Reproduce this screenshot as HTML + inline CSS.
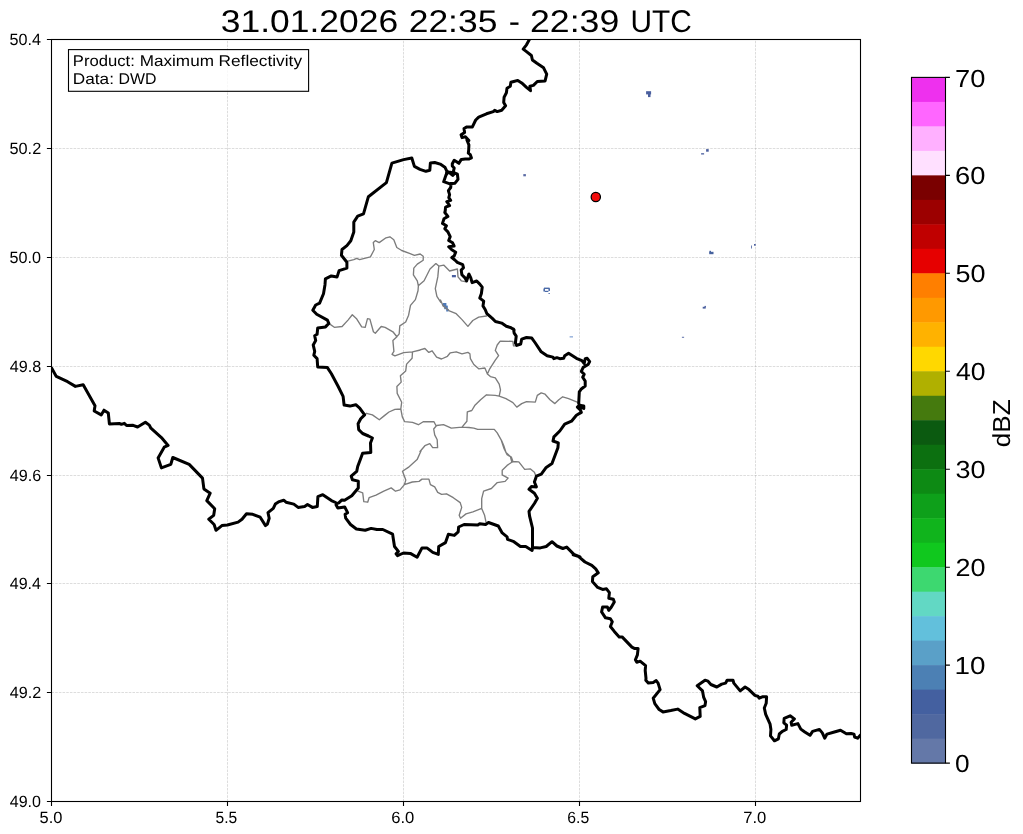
<!DOCTYPE html>
<html><head><meta charset="utf-8"><title>radar</title>
<style>
html,body{margin:0;padding:0;background:#fff;}
body{width:1023px;height:834px;position:relative;overflow:hidden;font-family:"Liberation Sans",sans-serif;color:#000;}
</style></head><body>
<svg width="1023" height="834" viewBox="0 0 1023 834" style="position:absolute;left:0;top:0;will-change:transform;text-rendering:geometricPrecision">
<defs><clipPath id="ax"><rect x="51.5" y="39.5" width="809.0" height="762.0"/></clipPath></defs>
<path d="M227.5 801.5 V39.5 M403.5 801.5 V39.5 M579.5 801.5 V39.5 M755.5 801.5 V39.5 M51.5 692.5 H860.5 M51.5 583.5 H860.5 M51.5 475.5 H860.5 M51.5 366.5 H860.5 M51.5 257.5 H860.5 M51.5 148.5 H860.5" fill="none" stroke="#808080" stroke-opacity="0.36" stroke-width="0.75" stroke-dasharray="2.57 1.11"/>
<g clip-path="url(#ax)" fill="none" stroke-linejoin="round" stroke-linecap="round">
<rect x="646.1" y="91.2" width="5" height="3.2" fill="#4a5f9e" stroke="none"/>
<rect x="648.0" y="92.1" width="2.5" height="5" fill="#4a5f9e" stroke="none"/>
<rect x="706.1" y="149.1" width="2.6" height="2.6" fill="#4a5f9e" stroke="none"/>
<rect x="701.1" y="153.2" width="3" height="1.3" fill="#4a5f9e" stroke="none"/>
<rect x="523.3" y="174.1" width="2.6" height="2.2" fill="#5a6aa4" stroke="none"/>
<rect x="709.2" y="251.8" width="4.3" height="2.4" fill="#46629e" stroke="none"/>
<rect x="709.4" y="250.8" width="1.6" height="1.6" fill="#46629e" stroke="none"/>
<rect x="754.0" y="244.0" width="1.7" height="1.7" fill="#4a5f9e" stroke="none"/>
<rect x="751.0" y="245.5" width="0.8" height="3" fill="#4a5f9e" stroke="none"/>
<rect x="702.7" y="306.8" width="3" height="1.8" fill="#4a5f9e" stroke="none"/>
<rect x="704.5" y="305.9" width="1.4" height="1.4" fill="#4a5f9e" stroke="none"/>
<rect x="681.9" y="336.8" width="2.2" height="0.9" fill="#4a5f9e" stroke="none"/>
<rect x="451.9" y="275.0" width="4" height="2.3" fill="#4a5f9e" stroke="none"/>
<rect x="442.8" y="303.0" width="3.6" height="3.2" fill="#4f7ab8" stroke="none"/>
<rect x="444.2" y="305.6" width="3.6" height="3.6" fill="#4f7ab8" stroke="none"/>
<rect x="446.2" y="308.9" width="2.4" height="2.6" fill="#4f7ab8" stroke="none"/>
<rect x="544.0" y="287.6" width="5.5" height="1.4" fill="#4a6aa8" stroke="none"/>
<rect x="543.4" y="288.5" width="1.6" height="3" fill="#4a6aa8" stroke="none"/>
<rect x="548.4" y="288.3" width="1.6" height="2.6" fill="#4a6aa8" stroke="none"/>
<rect x="544.8" y="290.8" width="3.6" height="1.2" fill="#4a6aa8" stroke="none"/>
<rect x="548.4" y="293.1" width="1.6" height="0.8" fill="#4a6aa8" stroke="none"/>
<rect x="569.6" y="336.2" width="3.4" height="1.3" fill="#8aa8d8" stroke="none"/>
<path d="M358.0 491.2 L362.7 492.8 L363.8 501.6 L367.7 502.2 L369.1 497.7 L376.0 495.1 L383.8 491.2 L391.2 487.9 L395.5 491.2 L400.0 489.9 L404.4 484.6 L405.8 480.1 L402.5 471.3 L408.3 467.4 L417.1 459.6 L421.1 450.8 M404.4 484.6 L412.3 482.0 L419.1 481.4 L422.0 479.1 L428.9 479.1 L430.4 484.6 L434.7 486.9 L437.7 492.4 L441.6 494.3 L446.5 493.8 L453.3 497.7 L460.2 502.6 L461.7 507.4 L459.2 515.3 L460.5 518.2 L466.0 513.9 L472.9 511.9 L481.7 508.4 M481.7 508.4 L484.6 515.3 L486.0 522.1 M481.7 508.4 L481.7 498.7 L483.6 491.2 L491.4 488.5 L497.3 482.6 L505.1 481.4 L508.1 478.1 L502.2 474.8 L502.2 470.3 L507.1 465.4 L512.9 461.5 M501.2 440.0 L504.1 448.8 L507.1 454.7 L511.4 457.2 L512.9 461.5 M512.9 461.5 L518.8 461.9 L524.7 469.3 L530.5 468.9 L534.4 472.3 L536.0 476.2 M420.0 349.9 L424.9 348.5 L428.8 352.4 L432.1 350.8 L436.6 357.1 L441.5 359.0 L447.4 356.3 L450.3 352.8 L456.2 351.8 L462.0 353.8 L467.9 352.4 L469.9 353.8 L470.4 358.7 L473.8 364.5 L478.7 368.8 L484.9 368.0 L487.4 373.9 M487.4 373.9 L489.4 369.4 L495.3 360.2 L498.6 355.7 L495.3 350.4 L497.2 345.0 L500.2 341.1 L512.9 341.4 L513.5 345.9 L515.8 345.9 M487.4 373.9 L490.4 376.6 L495.3 377.8 L499.2 384.1 L500.5 389.9 L499.2 396.2 M499.2 396.2 L495.3 395.4 L486.5 394.8 L480.6 399.7 L474.7 405.6 L471.8 410.5 L467.3 411.8 L466.9 421.2 L462.0 427.1 M499.2 396.2 L506.0 398.7 L512.9 402.6 L516.8 407.1 L521.7 403.6 L526.5 401.7 L535.3 402.1 L537.3 395.4 L541.2 392.9 L545.1 394.2 L550.0 399.7 L554.9 403.6 L558.8 399.7 L562.7 396.8 L568.6 398.7 L578.4 402.6 M462.0 427.1 L468.9 427.5 L473.8 428.1 L477.7 429.4 L494.3 429.4 L497.2 432.9 L501.7 440.8 L504.1 446.6 L506.0 452.5 L510.3 456.4 L511.9 462.3 M462.0 427.1 L451.3 428.1 L443.5 424.7 L436.6 425.5 L433.7 429.0 L434.7 434.9 L437.2 439.8 L437.6 447.6 L432.7 447.6 L429.8 443.7 L424.9 445.7 L420.0 451.5 M440.5 300.0 L443.1 305.9 L449.3 310.8 L456.2 313.7 L462.0 319.6 L467.9 326.4 L472.8 320.5 L478.7 317.2 L486.5 316.0 M347.9 261.2 L353.8 259.6 L356.7 258.3 L359.6 259.6 L370.4 256.9 L374.3 249.5 L373.3 242.6 L375.3 240.7 L379.2 242.6 L386.0 237.8 L389.9 236.8 L393.8 239.7 L396.8 247.5 L401.7 250.5 L409.5 253.4 L414.4 255.3 L420.2 254.0 L423.2 256.3 L423.2 260.2 L417.3 264.1 L413.8 268.1 L413.4 274.9 L417.3 280.8 L418.3 285.7 M418.3 285.7 L424.1 280.8 L430.0 269.0 L435.9 263.6 L438.8 266.1 M438.8 266.1 L437.8 276.9 L435.3 288.6 L436.9 296.4 L440.8 302.3 M438.8 266.1 L443.7 265.1 L449.6 271.0 L457.4 269.0 L458.0 276.9 L461.3 280.8 L465.2 281.7 M328.8 323.4 L334.3 327.3 L342.1 326.5 L348.0 320.1 L352.3 314.8 L356.8 319.1 L361.7 326.9 L365.2 327.3 L367.5 318.7 L369.9 319.1 L373.4 331.8 L375.3 333.2 L381.2 326.5 L385.1 327.3 L392.9 331.8 L396.9 336.7 M396.9 336.7 L399.2 333.8 L399.8 325.9 L405.7 322.0 L408.6 315.2 L410.5 305.4 L415.4 299.6 L418.0 290.8 L418.4 285.7 M396.9 336.7 L392.9 340.6 L393.9 351.4 L392.0 354.3 L394.9 355.9 L403.7 352.7 L412.5 351.9 M412.5 351.9 L420.3 350.0 M412.5 351.9 L412.1 358.2 L406.6 364.1 L405.7 370.9 L400.4 375.8 L401.2 382.1 L396.9 386.5 L397.2 393.4 L401.7 402.2 L400.8 409.0 M400.8 409.0 L394.9 409.4 L389.0 412.0 L384.1 415.9 L379.3 419.8 L372.4 414.9 L366.5 413.3 L364.6 414.9 M400.8 409.0 L402.3 416.9 L404.7 421.7 L412.5 422.3 L418.4 424.7 L423.2 421.7 L434.0 421.7 L436.0 425.7" stroke="#7c7c7c" stroke-width="1.35"/>
<path d="M51.6 368.0 L56.3 376.4 L67.6 381.7 L75.4 386.4 L83.2 384.8 L95.0 405.7 L94.2 411.0 L101.2 414.9 L104.0 410.2 L108.3 413.0 L109.4 423.9 L119.4 423.5 L121.4 424.3 L124.3 423.3 L126.6 425.5 L133.1 425.3 L137.6 427.0 L145.4 422.3 L149.3 425.1 L150.9 428.2 L161.4 437.6 L168.1 445.4 L164.2 447.2 L158.1 457.9 L161.4 467.9 L170.8 464.4 L172.8 457.5 L189.2 464.4 L202.5 478.1 L203.9 488.9 L210.2 493.2 L206.8 500.6 L214.7 508.8 L213.7 515.3 L208.8 519.2 L214.1 524.5 L216.0 530.3 L221.9 525.6 L227.4 525.0 L238.1 522.1 L242.0 519.2 L246.5 513.7 L252.8 514.3 L260.2 517.2 L265.5 525.6 L267.4 524.1 L269.2 518.2 L268.0 512.7 L273.3 508.4 L275.3 504.1 L279.2 501.6 L283.7 500.2 L286.0 502.2 L293.8 504.1 L298.1 507.4 L304.6 506.5 L307.5 504.5 L312.4 507.4 L317.3 506.5 L317.9 496.7 L322.8 494.7 L331.4 500.6 L335.6 502.5 L336.8 503.6 M336.8 503.6 L336.0 504.8 L337.8 508.0 L344.7 506.9 L347.6 512.7 L345.1 514.3 L345.7 518.2 L350.5 524.5 L356.4 529.0 L365.2 530.3 L371.1 528.4 L376.9 529.5 L382.8 529.5 L392.6 534.2 L394.5 546.5 L398.4 551.4 L396.1 553.8 L397.5 555.7 L403.5 553.0 L410.3 553.4 L417.1 557.3 L422.0 547.9 L426.9 547.9 L432.8 552.4 L438.3 554.4 L438.7 546.5 L445.5 542.6 L448.4 534.2 L454.3 535.4 L458.2 531.9 L458.6 527.0 L464.1 524.5 L477.8 525.0 L479.7 523.7 L485.6 524.5 L488.5 522.5 L498.3 526.0 L502.2 532.9 L507.1 536.8 L507.5 539.3 L513.9 541.7 L520.4 546.5 L525.7 546.5 L532.1 550.5 L532.5 547.5 L532.5 528.0 L529.6 516.2 L529.0 511.4 L534.4 503.5 L537.4 498.3 L534.4 493.2 L529.0 489.3 L531.5 486.5 L536.4 486.9 L534.4 482.0 L536.4 476.2 L541.3 474.2 L546.2 467.4 L552.0 463.5 L557.9 447.8 L558.3 442.9 L553.0 441.0 L553.9 436.9 L559.8 431.0 L564.7 424.1 L571.5 421.2 L576.4 415.3 L581.3 412.4 L580.3 409.9 L577.4 407.1 L579.3 405.2 L583.8 406.0 L583.8 408.5 L580.7 407.1 L578.7 403.6 L579.3 391.9 L581.3 389.0 L585.2 386.0 L585.2 381.1 L582.7 377.2 L584.2 374.3 L581.3 371.4 L583.2 367.4 L588.1 364.5 L589.7 361.6 L587.2 358.3 L585.2 358.7 L584.2 363.5 L581.9 360.6 L576.4 358.3 L568.6 353.2 L564.7 355.7 L563.7 358.3 L559.8 358.7 L556.9 357.7 L553.9 358.7 L552.9 357.1 L547.1 355.7 L541.2 351.8 L535.3 343.0 L531.8 338.1 L526.5 337.5 L521.7 339.1 L520.7 344.0 L516.8 345.4 L515.4 343.0 L516.2 336.2 L514.2 333.2 L513.5 328.9 L514.1 329.9 L511.0 327.7 L506.3 326.2 L501.7 323.1 L495.4 321.5 L492.3 318.4 L486.9 313.7 L485.3 309.8 L483.0 305.9 L483.7 301.2 L479.8 298.1 L481.4 293.5 L482.2 287.2 L479.8 284.1 L476.7 281.0 L472.1 282.6 L470.8 277.9 L468.9 274.0 L466.6 281.0 L465.0 277.9 L461.9 274.8 L461.2 270.1 L463.5 267.8 L462.7 264.6 L457.3 262.3 L454.9 260.0 L451.8 257.6 L454.1 256.1 L455.7 252.2 L451.8 249.8 L448.7 246.7 L454.1 246.0 L452.6 242.8 L448.7 240.5 L450.2 236.6 L447.9 231.9 L444.8 228.8 L446.4 225.7 L442.5 223.4 L444.0 218.7 L447.9 216.4 L444.8 212.5 L445.2 211.0 L445.6 207.1 L449.6 205.5 L446.8 201.6 L450.7 200.4 L448.8 197.7 L449.6 194.6 L448.4 190.7 L450.7 187.5 L451.1 183.6 M532.5 547.5 L540.3 547.9 L546.2 546.5 L552.0 541.7 L556.9 546.0 L562.8 548.5 L566.7 547.1 L573.9 554.4 L580.0 556.9 L573.2 554.8 L578.1 556.2 L585.0 562.0 L591.8 565.4 L595.7 568.9 L598.3 572.8 L592.8 576.7 L592.4 581.6 L597.7 587.4 L602.6 589.4 L606.5 588.8 L609.4 592.7 L608.8 598.2 L613.3 599.2 L614.3 602.1 L611.4 607.0 L608.8 610.3 L607.4 607.0 L602.6 607.0 L601.6 611.9 L605.5 617.8 L610.4 618.7 L612.3 621.7 L610.4 626.5 L614.3 631.4 L619.2 636.9 L622.1 636.9 L631.9 647.1 L634.8 648.6 L638.1 648.6 L637.4 654.9 L635.4 659.8 L636.8 662.3 L640.1 661.2 L645.6 665.7 L645.2 670.5 L646.0 678.4 L645.8 680.2 L648.3 683.1 L653.2 682.5 L656.2 680.6 L658.1 683.1 L660.1 689.6 L653.2 698.2 L654.8 703.7 L659.1 709.5 L663.0 711.9 L670.8 710.5 L677.7 709.1 L684.5 713.4 L695.3 718.9 L700.2 716.4 L699.8 707.6 L705.0 705.6 L705.6 701.7 L703.7 697.4 L702.5 690.9 L697.2 685.7 L705.0 680.2 L708.0 681.2 L710.9 684.5 L716.8 687.0 L721.7 684.1 L725.6 683.1 L727.1 680.2 L733.0 680.2 L733.8 683.1 L740.2 690.9 L745.1 687.0 L749.0 689.6 L754.9 695.4 L757.8 696.2 L759.2 698.2 L762.3 696.8 L766.6 696.8 L766.2 703.3 L764.3 708.0 L765.7 714.4 L770.1 724.2 L770.9 729.5 L770.5 735.9 L774.4 740.8 L778.4 738.8 L779.3 734.0 L782.3 731.4 L786.2 729.5 L786.6 725.2 L783.8 722.8 L784.2 718.3 L790.1 715.8 L794.4 718.9 L791.1 722.2 L791.7 725.2 L797.9 723.6 L800.8 729.1 L804.8 732.0 L810.0 735.3 L812.6 731.4 L819.4 729.4 L822.3 732.9 L824.7 738.2 L827.0 734.1 L833.5 732.3 L840.5 730.3 L846.4 733.8 L851.1 733.5 L854.0 734.1 L854.6 737.0 L857.6 738.2 L860.3 735.2 M448.4 171.9 L455.0 173.1 L457.4 174.2 L458.0 179.3 L455.0 183.2 L449.9 183.8 L443.7 181.7 L446.0 175.0 L448.4 171.9 L452.7 175.4 L455.0 173.1 M453.5 171.1 L454.2 168.0 L452.3 166.0 L452.3 163.7 L454.2 160.2 L456.6 161.7 L458.9 163.3 L461.3 159.4 L465.2 159.0 L469.1 159.0 L471.4 157.8 L470.3 154.7 L468.3 153.1 L468.7 150.0 L468.9 144.9 L466.9 140.0 L468.9 140.6 L465.4 136.7 L462.0 137.6 L461.1 134.7 L464.6 132.4 L464.0 128.5 L466.9 126.9 L472.4 126.9 L475.7 120.0 L478.7 117.1 L486.5 113.8 L493.3 111.6 L494.7 110.3 L497.2 111.6 L501.7 110.3 L505.6 105.8 L503.7 102.4 L504.1 97.2 L506.4 92.7 L507.0 88.2 L510.3 86.2 L510.9 82.3 L513.8 81.5 L517.8 80.4 L521.7 82.9 L526.5 87.4 L530.5 90.7 L529.9 86.2 L533.4 85.4 L537.3 81.5 L545.1 80.9 L546.7 74.1 L543.6 67.8 L536.9 63.3 L532.4 60.0 L531.4 55.5 L526.5 51.6 L523.2 49.1 L526.5 44.8 L529.5 39.3 M446.4 174.2 L446.8 171.1 L444.9 167.2 L440.2 164.1 L434.7 162.5 L430.4 162.9 L429.8 170.3 L425.9 171.3 L420.0 169.3 L414.4 166.4 L411.8 158.0 L403.6 159.6 L391.9 163.1 L386.4 182.6 L368.4 196.7 L363.5 213.9 L357.7 216.2 L353.8 222.1 L353.8 231.9 L350.8 240.7 L346.9 245.6 L342.0 249.5 L341.4 255.3 L346.9 262.2 L346.9 268.1 L339.1 270.6 L337.1 276.9 L331.3 275.9 L325.4 278.8 L325.0 284.7 L323.5 293.7 L319.6 303.1 L315.7 305.0 L312.8 310.3 L316.7 314.2 L327.4 320.1 L328.8 323.4 L325.5 326.9 L317.7 327.9 L317.1 334.3 L314.7 335.7 L315.7 340.6 L313.2 344.9 L314.7 351.4 L313.8 355.3 L317.1 358.6 L317.7 367.0 L327.4 367.6 L331.4 373.8 L338.2 386.5 L343.1 396.3 L344.1 405.1 L349.9 406.1 L355.8 404.7 L359.7 408.1 L364.6 414.9 L360.7 418.8 L358.1 423.7 L358.7 429.6 L362.6 433.5 L368.5 436.0 L372.4 438.0 L370.5 443.0 L370.8 452.4 L362.6 453.2 L360.6 458.7 L357.7 466.5 L356.7 471.4 L351.2 476.2 L352.4 479.8 L358.3 481.1 L358.3 488.0 L351.8 495.8 L344.6 500.3 L341.9 499.9 L338.8 502.8 L336.8 503.6" stroke="#000" stroke-width="3.0"/>
<circle cx="595.8" cy="196.9" r="4.65" fill="#f20d0d" stroke="#000" stroke-width="1.25"/>
</g>
<rect x="51.5" y="39.5" width="809.0" height="762.0" fill="none" stroke="#000" stroke-width="1.1"/>
<path d="M51.5 801.5 v4.6 M227.5 801.5 v4.6 M403.5 801.5 v4.6 M579.5 801.5 v4.6 M755.5 801.5 v4.6 M51.5 801.5 h-4.6 M51.5 692.5 h-4.6 M51.5 583.5 h-4.6 M51.5 475.5 h-4.6 M51.5 366.5 h-4.6 M51.5 257.5 h-4.6 M51.5 148.5 h-4.6 M51.5 39.5 h-4.6" fill="none" stroke="#000" stroke-width="1.1"/>
<rect x="911.5" y="77.40" width="34.0" height="24.99" fill="#ee30ee"/>
<rect x="911.5" y="101.89" width="34.0" height="24.99" fill="#ff66ff"/>
<rect x="911.5" y="126.38" width="34.0" height="24.99" fill="#ffb0ff"/>
<rect x="911.5" y="150.87" width="34.0" height="24.99" fill="#ffe0ff"/>
<rect x="911.5" y="175.36" width="34.0" height="24.99" fill="#7a0000"/>
<rect x="911.5" y="199.85" width="34.0" height="24.99" fill="#9c0000"/>
<rect x="911.5" y="224.34" width="34.0" height="24.99" fill="#c00000"/>
<rect x="911.5" y="248.83" width="34.0" height="24.99" fill="#e60000"/>
<rect x="911.5" y="273.31" width="34.0" height="24.99" fill="#ff7f00"/>
<rect x="911.5" y="297.80" width="34.0" height="24.99" fill="#ff9900"/>
<rect x="911.5" y="322.29" width="34.0" height="24.99" fill="#ffb200"/>
<rect x="911.5" y="346.78" width="34.0" height="24.99" fill="#ffd800"/>
<rect x="911.5" y="371.27" width="34.0" height="24.99" fill="#b0b000"/>
<rect x="911.5" y="395.76" width="34.0" height="24.99" fill="#457a0e"/>
<rect x="911.5" y="420.25" width="34.0" height="24.99" fill="#0b5a10"/>
<rect x="911.5" y="444.74" width="34.0" height="24.99" fill="#0c7010"/>
<rect x="911.5" y="469.23" width="34.0" height="24.99" fill="#0d8a14"/>
<rect x="911.5" y="493.72" width="34.0" height="24.99" fill="#0ea01a"/>
<rect x="911.5" y="518.21" width="34.0" height="24.99" fill="#10b41c"/>
<rect x="911.5" y="542.70" width="34.0" height="24.99" fill="#10c81e"/>
<rect x="911.5" y="567.19" width="34.0" height="24.99" fill="#3dd870"/>
<rect x="911.5" y="591.68" width="34.0" height="24.99" fill="#62d8c4"/>
<rect x="911.5" y="616.16" width="34.0" height="24.99" fill="#62c0dc"/>
<rect x="911.5" y="640.65" width="34.0" height="24.99" fill="#5aa0c8"/>
<rect x="911.5" y="665.14" width="34.0" height="24.99" fill="#4c80b4"/>
<rect x="911.5" y="689.63" width="34.0" height="24.99" fill="#4460a0"/>
<rect x="911.5" y="714.12" width="34.0" height="24.99" fill="#5068a0"/>
<rect x="911.5" y="738.61" width="34.0" height="24.99" fill="#6478a8"/>
<rect x="911.5" y="77.4" width="34.0" height="685.7" fill="none" stroke="#000" stroke-width="1.1"/>
<path d="M945.5 763.1 h4.4 M945.5 665.1 h4.4 M945.5 567.2 h4.4 M945.5 469.2 h4.4 M945.5 371.3 h4.4 M945.5 273.3 h4.4 M945.5 175.4 h4.4 M945.5 77.4 h4.4" fill="none" stroke="#000" stroke-width="1.1"/>
<g font-family="Liberation Sans, sans-serif" fill="#000">
<rect x="68.5" y="49.6" width="240.1" height="41.7" fill="#fff" fill-opacity="0.8" stroke="#000" stroke-width="1.1"/>
<text transform="translate(9.75 807.0) scale(0.9839 1)" font-size="16.3">49.0</text>
<text transform="translate(9.75 698.0) scale(0.9919 1)" font-size="16.3">49.2</text>
<text transform="translate(9.75 589.0) scale(0.9839 1)" font-size="16.3">49.4</text>
<text transform="translate(9.75 481.0) scale(0.9919 1)" font-size="16.3">49.6</text>
<text transform="translate(9.75 372.0) scale(0.9919 1)" font-size="16.3">49.8</text>
<text transform="translate(9.50 263.0) scale(0.9919 1)" font-size="16.3">50.0</text>
<text transform="translate(9.50 154.0) scale(1.0000 1)" font-size="16.3">50.2</text>
<text transform="translate(9.50 45.0) scale(0.9919 1)" font-size="16.3">50.4</text>
<text transform="translate(39.50 823.0) scale(1.0093 1)" font-size="16.3">5.0</text>
<text transform="translate(215.52 823.0) scale(0.9581 1)" font-size="16.3">5.5</text>
<text transform="translate(391.23 823.0) scale(1.0212 1)" font-size="16.3">6.0</text>
<text transform="translate(567.27 823.0) scale(0.9694 1)" font-size="16.3">6.5</text>
<text transform="translate(743.23 823.0) scale(1.0212 1)" font-size="16.3">7.0</text>
<text transform="translate(220.79 32.1) scale(1.1288 1)" font-size="31.4">31.01.2026</text>
<text transform="translate(408.71 32.1) scale(1.1287 1)" font-size="31.4">22:35</text>
<text transform="translate(508.76 32.1) scale(1.0750 1)" font-size="31.4">-</text>
<text transform="translate(530.00 32.1) scale(1.1366 1)" font-size="31.4">22:39</text>
<text transform="translate(630.46 32.1) scale(0.9492 1)" font-size="31.4">UTC</text>
<text transform="translate(955.00 772.2) scale(1.0667 1)" font-size="24.6">0</text>
<text transform="translate(954.52 674.24) scale(1.1313 1)" font-size="24.6">10</text>
<text transform="translate(955.40 576.29) scale(1.0980 1)" font-size="24.6">20</text>
<text transform="translate(955.40 478.33) scale(1.0980 1)" font-size="24.6">30</text>
<text transform="translate(955.96 380.37) scale(1.0769 1)" font-size="24.6">40</text>
<text transform="translate(955.40 282.41) scale(1.0980 1)" font-size="24.6">50</text>
<text transform="translate(955.11 184.46) scale(1.1089 1)" font-size="24.6">60</text>
<text transform="translate(955.11 86.5) scale(1.1089 1)" font-size="24.6">70</text>
<text transform="translate(72.86 66.4) scale(1.0733 1)" font-size="15.5">Product:</text>
<text transform="translate(139.72 66.4) scale(1.1046 1)" font-size="15.5">Maximum</text>
<text transform="translate(218.51 66.4) scale(1.1146 1)" font-size="15.5">Reflectivity</text>
<text transform="translate(72.81 83.6) scale(1.1101 1)" font-size="15.5">Data:</text>
<text transform="translate(118.42 83.6) scale(1.0257 1)" font-size="15.5">DWD</text>
<text transform="translate(1009.7 447.26) rotate(-90) scale(1.0644 1)" font-size="24.6">dBZ</text>
</g>
</svg>

</body></html>
